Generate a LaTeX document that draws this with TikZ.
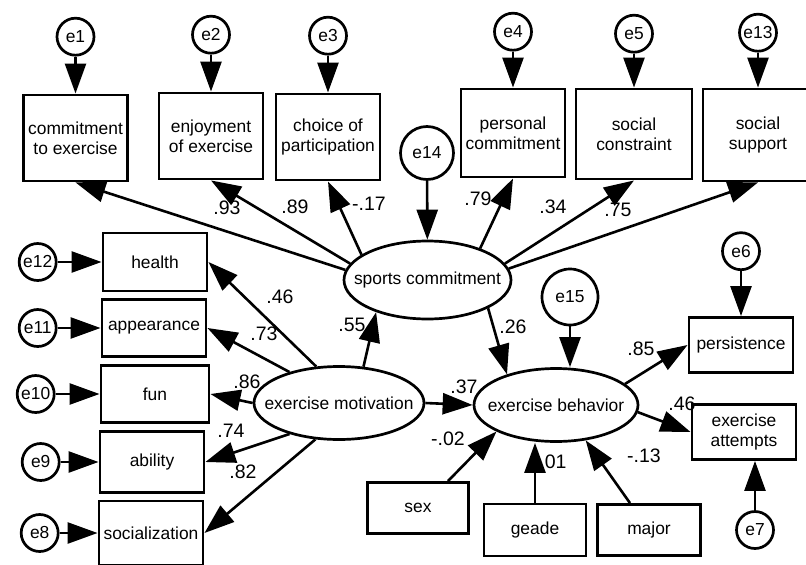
\documentclass[tikz,border=0pt]{standalone}
\usepackage{fontspec}
\setmainfont{Liberation Sans}
\usetikzlibrary{arrows.meta,positioning,shapes.geometric}

\begin{document}
\begin{tikzpicture}[x=1pt, y=-1pt,
  obs/.style={draw, line width=2.9pt, minimum width=104pt, minimum height=86pt, inner sep=0pt, align=center, font=\fontsize{17.4}{20}\selectfont},
  lat/.style={draw, ellipse, line width=2.7pt, minimum width=168pt, minimum height=76pt, inner sep=0pt, font=\fontsize{17.4}{20}\selectfont},
  err/.style={draw, circle, line width=2.7pt, minimum size=37pt, inner sep=0pt, font=\fontsize{17.4}{20}\selectfont},
  arr/.style={-{Triangle[length=30pt,width=21pt]}, line width=2.6pt},
  coef/.style={inner sep=0pt, font=\fontsize{19.5}{22}\selectfont}
]
  \useasboundingbox (0,0) rectangle (806,565);

  \node[obs] (cte) at (75.5,138) {commitment\\to exercise};
  \node[obs] (eoe) at (211,136) {enjoyment\\of exercise};
  \node[obs] (cop) at (328,137) {choice of\\participation};
  \node[obs, minimum height=88pt] (pc) at (513,133) {personal\\commitment};
  \node[obs, minimum width=116pt, minimum height=90pt] (sco) at (634,134) {social\\constraint};
  \node[obs, minimum width=110pt, minimum height=92pt] (ssu) at (758,135) {social\\support};

  \node[err, above=37pt of cte] (e1) {e1};
  \node[err, above=37pt of eoe] (e2) {e2};
  \node[err, above=37pt of cop] (e3) {e3};
  \node[err, above=36pt of pc] (e4) {e4};
  \node[err, above=34pt of sco] (e5) {e5};
  \node[err, above=35pt of ssu] (e13) {e13};

  \node[obs, minimum height=58pt] (hea) at (155,262) {health};
  \node[obs, minimum height=57pt] (app) at (154,328) {appearance};
  \node[obs, minimum width=108pt, minimum height=57pt] (fun) at (155,394) {fun};
  \node[obs, minimum height=61pt] (abi) at (152,462) {ability};
  \node[obs, minimum height=64pt] (soc) at (151,533) {socialization};

  \node[err, left=44pt of hea] (e12) {e12};
  \node[err, left=43pt of app] (e11) {e11};
  \node[err, left=44pt of fun] (e10) {e10};
  \node[err, left=38pt of abi] (e9) {e9};
  \node[err, left=38pt of soc] (e8) {e8};

  \node[lat, minimum width=167pt, minimum height=78pt] (sc) at (427.5,280) {\makebox[0pt]{sports commitment}};
  \node[lat, minimum width=170pt, minimum height=73pt] (em) at (339,403) {\makebox[0pt]{exercise motivation}};
  \node[lat, minimum width=164pt, minimum height=73pt] (eb) at (556,405) {\makebox[0pt]{exercise behavior}};

  \node[err, minimum size=53pt] (e14) at (427,153) {e14};
  \node[err, minimum size=56pt] (e15) at (570,297) {e15};

  \node[obs, minimum height=55pt] (per) at (741,345) {persistence};
  \node[obs, minimum height=55pt] (att) at (744,432) {exercise\\attempts};
  \node[err, above=45pt of per] (e6) {e6};
  \node[err] (e7) at (755,530) {e7};

  \node[obs, minimum width=101pt, minimum height=51pt] (sex) at (418,508) {sex};
  \node[obs, minimum width=102pt, minimum height=52pt] (gea) at (535,530) {geade};
  \node[obs, minimum width=103pt, minimum height=51pt] (maj) at (649,530) {major};

  \draw[arr] (e1) -- (cte);
  \draw[arr] (e2) -- (eoe);
  \draw[arr] (e3) -- (cop);
  \draw[arr] (e4) -- (pc);
  \draw[arr] (e5) -- (sco);
  \draw[arr] (e13) -- (ssu);
  \draw[arr] (e12) -- (hea);
  \draw[arr] (e11) -- (app);
  \draw[arr] (e10) -- (fun);
  \draw[arr] (e9) -- (abi);
  \draw[arr] (e8) -- (soc);
  \draw[arr] (e14) -- (sc);
  \draw[arr] (e15) -- (e15 |- eb.north);
  \draw[arr] (e6) -- (per);
  \draw[arr] (e7) -- (e7 |- att.south);

  \draw[arr] (sc.173) -- (cte.south);
  \draw[arr] (sc.168) -- (eoe.south);
  \draw[arr] (sc.159) -- (cop.south);
  \draw[arr] (sc.31) -- (pc.south);
  \draw[arr] (sc.12) -- (sco.south);
  \draw[arr] (sc.8) -- (ssu.south);

  \draw[arr] (em.122) -- (hea.east);
  \draw[arr] (em.148) -- (app.east);
  \draw[arr] (em.west) -- (fun.east);
  \draw[arr] (em.212) -- (abi.east);
  \draw[arr] (em.237) -- (soc.east);

  \draw[arr] (em.56) -- (sc.-148);
  \draw[arr] (em.east) -- (eb.west);
  \draw[arr] (sc.-25) -- (eb.148);
  \draw[arr] (eb.17) -- (per.west);
  \draw[arr] (eb.-5) -- (att.west);
  \draw[arr] ([xshift=30pt]sex.north) -- (eb.204);
  \draw[arr] (gea) -- (gea |- eb.south);
  \draw[arr] (maj) -- (eb.-50);

  \node[coef] (k93) at (227,208) {.93};
  \node[coef] (k89) at (295,207) {.89};
  \node[coef] (k17) at (369,204) {-.17};
  \node[coef] (k79) at (478,199) {.79};
  \node[coef] (k34) at (553,207) {.34};
  \node[coef] (k75) at (618,210) {.75};
  \node[coef] (k46a) at (280,297) {.46};
  \node[coef] (k73) at (264,334) {.73};
  \node[coef] (k55) at (352,325) {.55};
  \node[coef] (k86) at (247,382) {.86};
  \node[coef] (k74) at (231,431) {.74};
  \node[coef] (k82) at (243,472) {.82};
  \node[coef] (k26) at (513,327) {.26};
  \node[coef] (k37) at (464,387) {.37};
  \node[coef] (k02) at (448,439) {-.02};
  \node[coef] (k01) at (553,462) {.01};
  \node[coef] (k13) at (644,456) {-.13};
  \node[coef] (k85) at (641,349) {.85};
  \node[coef] (k46b) at (682,404) {.46};
\end{tikzpicture}
\end{document}
